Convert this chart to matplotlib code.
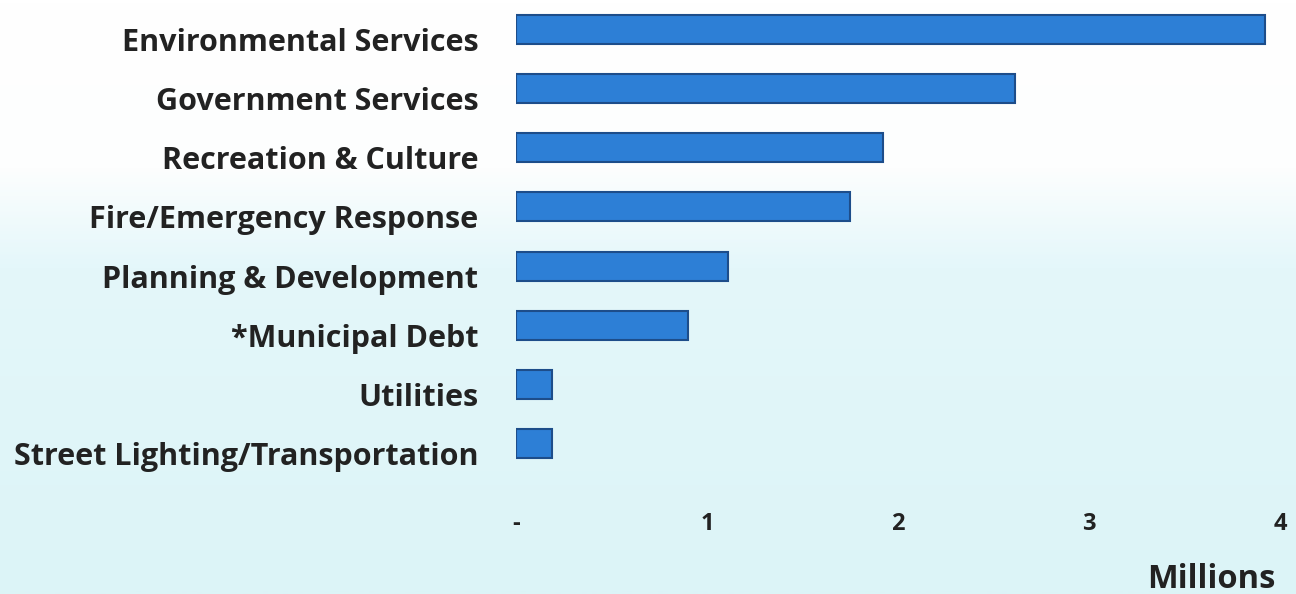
import matplotlib
matplotlib.use("Agg")
import matplotlib.pyplot as plt
import matplotlib.transforms as mtrans
import numpy as np
from matplotlib.colors import LinearSegmentedColormap

categories = ["Environmental Services", "Government Services", "Recreation & Culture",
              "Fire/Emergency Response", "Planning & Development", "*Municipal Debt",
              "Utilities", "Street Lighting/Transportation"]
values = [3.92, 2.61, 1.92, 1.75, 1.11, 0.90, 0.19, 0.19]
xticks = [0, 1, 2, 3, 4]
xtick_labels = ["-", "1", "2", "3", "4"]

FONT = "Open Sans"
fig = plt.figure(figsize=(12.96, 5.94), dpi=100)

# background gradient
bg = fig.add_axes([0, 0, 1, 1], zorder=0)
grad = np.linspace(0, 1, 300).reshape(-1, 1)
cmap = LinearSegmentedColormap.from_list("bg", [(0, "#ffffff"), (0.28, "#fdfefe"), (0.45, "#e4f7fa"), (1.0, "#dcf4f7")])
bg.imshow(grad, aspect="auto", cmap=cmap, extent=[0, 1, 0, 1], origin="upper")
bg.axis("off")

ax = fig.add_axes([516/1296, 1-473/594, 764/1296, 473/594], zorder=1)
ax.patch.set_alpha(0)
y = np.arange(len(categories))
ax.barh(y, values, height=0.49, color="#2d7fd6", edgecolor="#1d4d8a", linewidth=1.5)
ax.set_ylim(len(categories)-0.5, -0.5)
ax.set_xlim(0, 4)
ax.set_yticks(y)
ax.set_yticklabels(categories, fontsize=22, fontweight="bold", family=FONT, color="#222222")
ax.set_xticks(xticks)
ax.set_xticklabels(xtick_labels, fontsize=17, fontweight="bold", family=FONT, color="#222222")
ax.tick_params(axis="y", length=0, pad=27)
ax.tick_params(axis="x", length=0, pad=28)
off = mtrans.ScaledTranslation(0, -10/100, fig.dpi_scale_trans)
for lab in ax.get_yticklabels():
    lab.set_transform(lab.get_transform() + off)
for s in ax.spines.values():
    s.set_visible(False)
fig.text(1276/1296, 1-580/594, "Millions", ha="right", va="center", fontsize=23.5,
         fontweight="bold", family=FONT, color="#222222")

fig.savefig("out.png", dpi=100)
